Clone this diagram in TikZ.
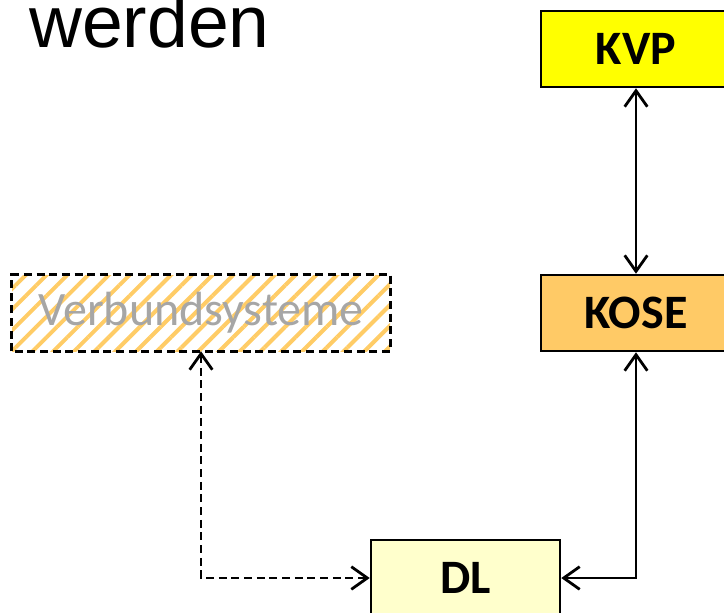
\documentclass[tikz,border=0pt]{standalone}
\usepackage{fontspec}
\setmainfont{Carlito}
\newfontfamily\headfont{Liberation Sans}
\usetikzlibrary{arrows.meta, patterns.meta}

\definecolor{kvpyellow}{HTML}{FFFF00}
\definecolor{koseorange}{HTML}{FFCA66}
\definecolor{dlyellow}{HTML}{FFFFCC}
\definecolor{stripeorange}{HTML}{FFCC66}
\definecolor{labelgray}{HTML}{A6A6A6}

\tikzset{
  sysbox/.style={draw=black, line width=1.9pt, minimum height=57pt, inner sep=0pt,
    font=\fontsize{36}{40}\selectfont\bfseries},
  link/.style={line width=2.1pt, {Straight Barb[length=12pt,width=17pt]}-{Straight Barb[length=12pt,width=17pt]}},
  dashline/.style={dash pattern=on 6pt off 3.5pt},
}

\begin{document}
\begin{tikzpicture}[x=0.75pt, y=-0.75pt]

  % Frame
  \useasboundingbox (0,0) rectangle (724,612);
  \clip (0,0) rectangle (724,612);

  % Title
  \node[anchor=base west, inner sep=0pt, font=\headfont\fontsize{55}{60}\selectfont] (title) at (29,47) {werden};

  % Boxes
  \node[sysbox, fill=kvpyellow, minimum width=142.5pt] (kvp) at (636,49) {KVP};
  \node[sysbox, fill=koseorange, minimum width=142.5pt] (kose) at (636,313) {KOSE};
  \node[sysbox, fill=dlyellow, minimum width=141.75pt] (dl) at (465.5,578) {DL};
  \node[minimum width=283.5pt, minimum height=57pt, inner sep=0pt,
        preaction={pattern={Lines[angle=45, distance=11pt, line width=3pt]}, pattern color=stripeorange},
        text=labelgray, font=\fontsize{36}{40}\selectfont] (verbund) at (201,313) {Verbundsysteme};
  \draw[line width=1.9pt, dashline] (verbund.south west) rectangle (verbund.north east);

  % Connectors
  \draw[link] (kvp.south) -- (kose.north);
  \draw[link] (kose.south) |- (dl.east);
  \draw[link, dashline] (verbund.south) |- (dl.west);

\end{tikzpicture}
\end{document}
